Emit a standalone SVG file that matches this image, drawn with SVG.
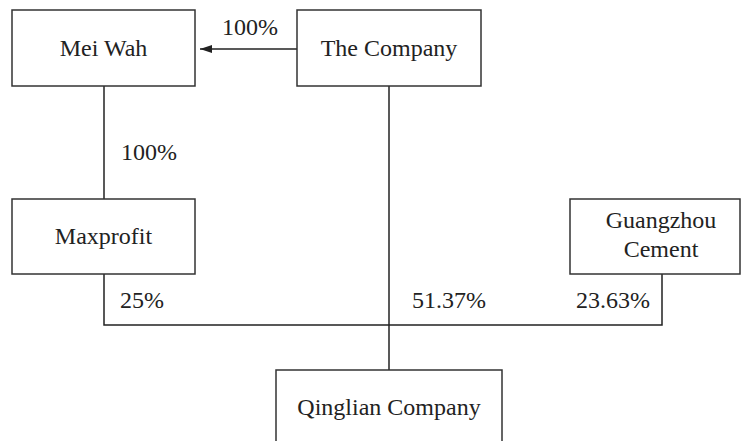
<svg xmlns="http://www.w3.org/2000/svg" width="744" height="441" viewBox="0 0 744 441" font-family="Liberation Serif, Times New Roman, serif">
<style>
.box{fill:#fff;stroke:#333;stroke-width:1.5}
.ln{fill:none;stroke:#222;stroke-width:1.5}
.t{font-family:"Liberation Serif","Times New Roman",serif;font-size:24px;fill:#222}
.c{text-anchor:middle}
</style>
<defs>
<marker id="ah" viewBox="0 0 12 8" refX="12" refY="4" markerWidth="12" markerHeight="8" markerUnits="userSpaceOnUse" orient="auto">
<path d="M0,0 L12,4 L0,8 z" fill="#222"/>
</marker>
</defs>
<g id="connectors">
<line class="ln" x1="297" y1="49" x2="200" y2="49" marker-end="url(#ah)"/>
<line class="ln" x1="104" y1="86" x2="104" y2="199"/>
<line class="ln" x1="389" y1="86" x2="389" y2="370"/>
<polyline class="ln" points="104,274 104,325 662,325 662,274"/>
<text class="t" x="222" y="35">100%</text>
<text class="t" x="121" y="160">100%</text>
<text class="t" x="120" y="308">25%</text>
<text class="t" x="412" y="308">51.37%</text>
<text class="t" x="576" y="308">23.63%</text>
</g>
<g id="mei-wah">
<rect class="box" x="12" y="10" width="183" height="76"/>
<text class="t c" x="103.5" y="56">Mei Wah</text>
</g>
<g id="the-company">
<rect class="box" x="297" y="10" width="184" height="76"/>
<text class="t c" x="389" y="56">The Company</text>
</g>
<g id="maxprofit">
<rect class="box" x="12" y="199" width="183" height="75"/>
<text class="t c" x="103.5" y="244">Maxprofit</text>
</g>
<g id="guangzhou-cement">
<rect class="box" x="570" y="199" width="170" height="75"/>
<text class="t c" x="661" y="228">Guangzhou</text>
<text class="t c" x="661" y="257">Cement</text>
</g>
<g id="qinglian-company">
<rect class="box" x="276" y="370" width="226" height="76"/>
<text class="t c" x="389" y="415">Qinglian Company</text>
</g>
</svg>
